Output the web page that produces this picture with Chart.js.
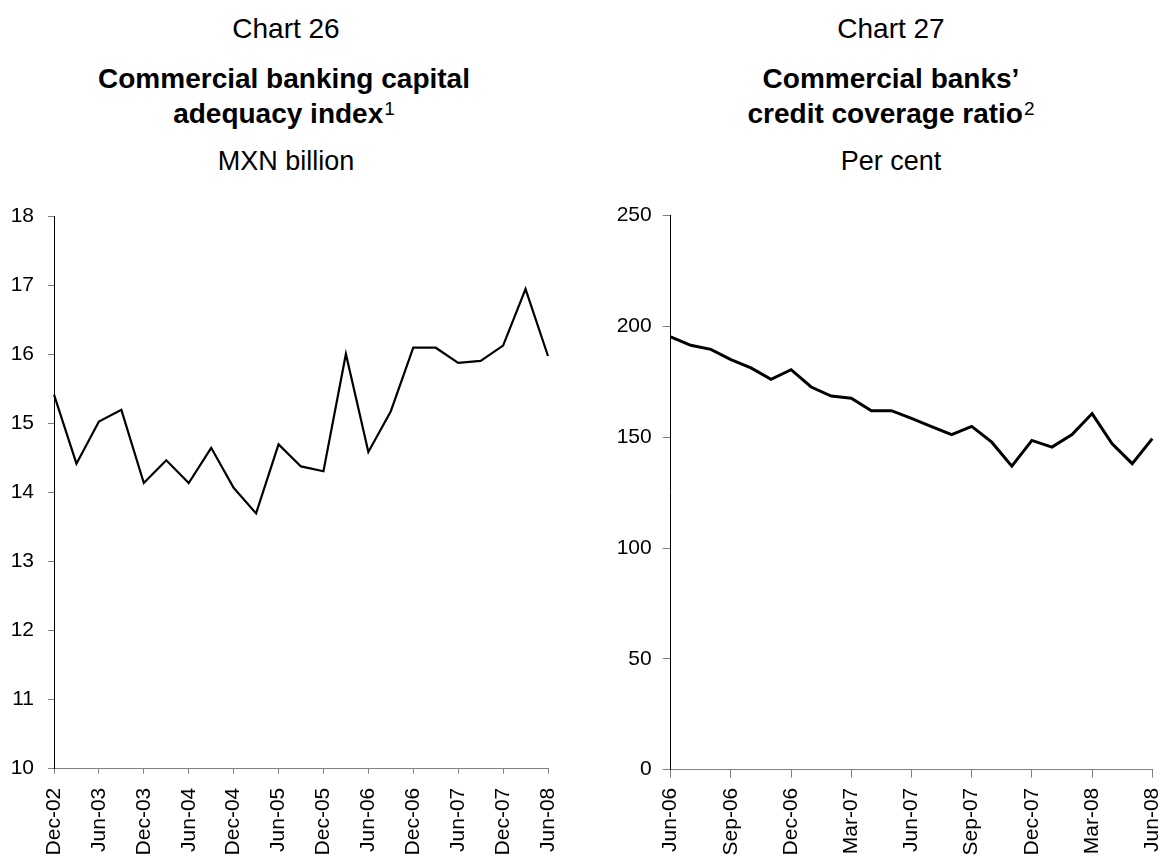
<!DOCTYPE html>
<html>
<head>
<meta charset="utf-8">
<title>Charts 26 and 27</title>
<script src="https://cdn.jsdelivr.net/npm/chart.js@4.4.1/dist/chart.umd.min.js"></script>
<style>
  html, body { margin: 0; padding: 0; background: #fff; }
  body { width: 1162px; height: 861px; position: relative; overflow: hidden;
         font-family: "Liberation Sans", Arial, sans-serif; color: #000; }
  .t { position: absolute; width: 580px; text-align: center; white-space: nowrap; }
  .num { font-size: 28px; line-height: 30px; }
  .head { font-size: 28px; font-weight: bold; line-height: 35px; }
  .unit { font-size: 27px; line-height: 36px; }
  .note { position: relative; top: -8px; font-size: 19px; font-weight: normal; margin-left: 1px; }
  .box { position: absolute; top: 190px; width: 581px; height: 671px; }
</style>
</head>
<body>
  <div class="t num" style="left:-4px; top:14px;">Chart 26</div>
  <div class="t head" style="left:-6px; top:61px;">Commercial banking capital<br>adequacy index<span class="note">1</span></div>
  <div class="t unit" style="left:-4px; top:143px;">MXN billion</div>

  <div class="t num" style="left:601px; top:14px;">Chart 27</div>
  <div class="t head" style="left:601px; top:61px;">Commercial banks’<br>credit coverage ratio<span class="note">2</span></div>
  <div class="t unit" style="left:601px; top:143px;">Per cent</div>

  <div class="box" style="left:0;"><canvas id="capital"></canvas></div>
  <div class="box" style="left:581px;"><canvas id="coverage"></canvas></div>

<script>
// Chart 26: quarterly capital adequacy index, Dec-02 to Jun-08
const quarters = ['Dec-02', 'Mar-03', 'Jun-03', 'Sep-03', 'Dec-03', 'Mar-04', 'Jun-04', 'Sep-04',
  'Dec-04', 'Mar-05', 'Jun-05', 'Sep-05', 'Dec-05', 'Mar-06', 'Jun-06', 'Sep-06',
  'Dec-06', 'Mar-07', 'Jun-07', 'Sep-07', 'Dec-07', 'Mar-08', 'Jun-08'];
const capitalIndex = [15.42, 14.42, 15.03, 15.20, 14.14, 14.47, 14.14, 14.65,
  14.07, 13.70, 14.70, 14.38, 14.31, 16.01, 14.59, 15.18,
  16.10, 16.10, 15.88, 15.91, 16.13, 16.95, 15.98];
const capitalTicks = ['Dec-02', 'Jun-03', 'Dec-03', 'Jun-04', 'Dec-04', 'Jun-05',
  'Dec-05', 'Jun-06', 'Dec-06', 'Jun-07', 'Dec-07', 'Jun-08'];

// Chart 27: monthly credit coverage ratio, Jun-06 to Jun-08
const months = ['Jun-06', 'Jul-06', 'Aug-06', 'Sep-06', 'Oct-06', 'Nov-06', 'Dec-06',
  'Jan-07', 'Feb-07', 'Mar-07', 'Apr-07', 'May-07', 'Jun-07', 'Jul-07', 'Aug-07',
  'Sep-07', 'Oct-07', 'Nov-07', 'Dec-07', 'Jan-08', 'Feb-08', 'Mar-08', 'Apr-08',
  'May-08', 'Jun-08'];
const coverageRatio = [195.3, 191.5, 189.7, 185.1, 181.3, 176.2, 180.5,
  172.7, 168.6, 167.6, 162.0, 162.0, 158.5, 154.8, 151.2,
  154.9, 147.8, 137.0, 148.6, 145.6, 151.2, 160.7, 147.1,
  138.1, 149.4];
const coverageTicks = ['Jun-06', 'Sep-06', 'Dec-06', 'Mar-07', 'Jun-07', 'Sep-07',
  'Dec-07', 'Mar-08', 'Jun-08'];

Chart.defaults.font.family = '"Liberation Sans", Arial, sans-serif';
Chart.defaults.color = '#000';

function makeLine(id, labels, values, shown, cfg) {
  const ctx = document.getElementById(id).getContext('2d');
  return new Chart(ctx, {
    type: 'line',
    data: {
      labels: labels,
      datasets: [{
        data: values,
        borderColor: '#000',
        borderWidth: cfg.lineWidth,
        pointRadius: 0,
        tension: 0,
        fill: false
      }]
    },
    options: {
      responsive: false,
      animation: false,
      events: [],
      layout: { padding: { top: cfg.top, right: cfg.right, left: 0, bottom: 0 } },
      plugins: { legend: { display: false }, tooltip: { enabled: false } },
      scales: {
        x: {
          type: 'category',
          offset: false,
          border: { display: true, color: '#808080', width: 1 },
          grid: {
            drawOnChartArea: false,
            drawTicks: true,
            tickLength: cfg.xTick,
            tickColor: (c) => shown.includes(labels[c.index]) ? '#808080' : 'rgba(0,0,0,0)'
          },
          ticks: {
            autoSkip: false,
            minRotation: 90,
            maxRotation: 90,
            padding: cfg.xPad,
            font: { size: 21 },
            callback: (v, i) => shown.includes(labels[i]) ? labels[i] : ''
          },
          afterFit: (s) => { s.height = cfg.xHeight; s.paddingLeft = 0; s.paddingRight = 0; }
        },
        y: {
          min: cfg.min,
          max: cfg.max,
          border: { display: true, color: '#000', width: 1 },
          grid: { drawOnChartArea: false, drawTicks: true, tickLength: cfg.yTick, tickColor: '#808080' },
          ticks: { stepSize: cfg.step, padding: cfg.yPad, font: { size: 21 } },
          afterFit: (s) => { s.width = cfg.yWidth; }
        }
      }
    }
  });
}

function sizeCanvas(id) {
  const c = document.getElementById(id);
  c.width = 581; c.height = 671;
  c.style.width = '581px'; c.style.height = '671px';
}
sizeCanvas('capital');
sizeCanvas('coverage');

makeLine('capital', quarters, capitalIndex, capitalTicks, {
  lineWidth: 2.2, top: 24.7, right: 33, min: 10, max: 18, step: 1,
  xTick: 5, xPad: 14, xHeight: 92.3, yTick: 6, yPad: 14, yWidth: 54
});

makeLine('coverage', months, coverageRatio, coverageTicks, {
  lineWidth: 3, top: 25.7, right: 9.7, min: 0, max: 250, step: 50,
  xTick: 8, xPad: 10, xHeight: 91.3, yTick: 8, yPad: 11, yWidth: 89.7
});
</script>
</body>
</html>
